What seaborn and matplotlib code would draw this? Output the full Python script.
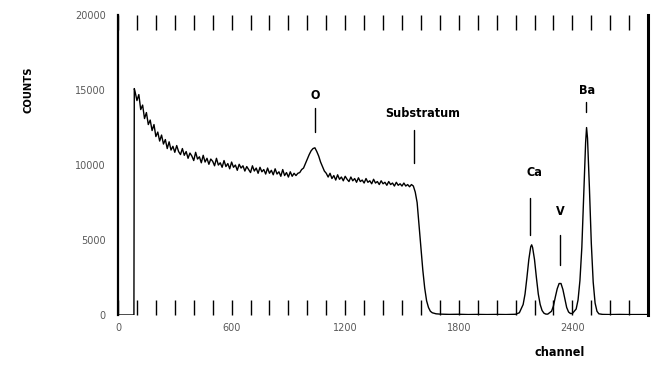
import seaborn as sns
import matplotlib.pyplot as plt
import numpy as np

# channel / counts (10-channel steps on the continuum)
lead_channels = [0, 84, 86]
lead_counts = [0, 0, 15100]

edge_channels = list(range(90, 260, 10))
edge_counts = [14900, 14300, 14700, 13700, 14000, 13100, 13500, 12700, 13000,
               12300, 12700, 11900, 12200, 11600, 12000, 11400, 11700]

mid_channels = list(range(260, 950, 10))
mid_counts = [11100, 11550, 11000, 11250, 10850, 11300, 10900, 10700, 11100, 10650,
              10900, 10450, 10800, 10600, 10300, 10850, 10400, 10550, 10150, 10650,
              10200, 10450, 10050, 10400, 10250, 9950, 10450, 10000, 10150, 9850,
              10300, 9900, 10100, 9750, 10200, 9850, 10000, 9650, 10050, 9800,
              9950, 9600, 9900, 9700, 9500, 9950, 9600, 9800, 9450, 9850,
              9550, 9700, 9400, 9800, 9450, 9650, 9350, 9750, 9400, 9550,
              9250, 9700, 9300, 9500, 9200, 9550, 9250, 9450, 9300]

oxy_channels = list(range(950, 1100, 10))
oxy_counts = [9450, 9500, 9700, 9800, 10100, 10400, 10700, 10950, 11100, 11150,
              10900, 10600, 10200, 9900, 9600]

sub_channels = list(range(1100, 1660, 10))
sub_counts = [9450, 9200, 9450, 9100, 9300, 9000, 9350, 9050, 9200, 8950,
              9250, 9050, 8900, 9200, 8950, 9100, 8850, 9150, 8900, 9000,
              8800, 9100, 8850, 8950, 8750, 9050, 8800, 8900, 8700, 8950,
              8750, 8850, 8650, 8900, 8700, 8800, 8600, 8850, 8650, 8750,
              8600, 8800, 8600, 8700, 8550, 8700, 8600, 8200, 7500, 6000,
              4500, 3000, 1800, 950, 500, 250]

tail_channels = [1660, 1680, 1700, 1750, 1800, 1850, 1900, 1950, 2000, 2050, 2100,
                 2120, 2140, 2150, 2160, 2170, 2180, 2185, 2190, 2200, 2210, 2220,
                 2230, 2240, 2250, 2260, 2270, 2290, 2300, 2310, 2320, 2330, 2340,
                 2350, 2360, 2370, 2380, 2390, 2400, 2420, 2430, 2440, 2450, 2460,
                 2470, 2475, 2480, 2490, 2500, 2510, 2520, 2530, 2540, 2560, 2600,
                 2650, 2700, 2750, 2800]
tail_counts = [150, 80, 60, 40, 50, 30, 40, 30, 40, 30, 50,
               150, 700, 1400, 2500, 3700, 4550, 4680, 4500, 3700, 2500, 1400,
               700, 300, 120, 60, 60, 250, 600, 1200, 1750, 2100, 2100,
               1700, 1100, 500, 200, 100, 100, 400, 1000, 2300, 4500, 8000,
               11500, 12500, 11800, 8500, 4800, 2200, 800, 250, 80, 40, 30,
               40, 30, 30, 30]

channels = lead_channels + edge_channels + mid_channels + oxy_channels + sub_channels + tail_channels
counts = lead_counts + edge_counts + mid_counts + oxy_counts + sub_counts + tail_counts

# peak labels: text, text pos, marker line x, marker line y range
labels = ['O', 'Substratum', 'Ca', 'V', 'Ba']
label_x = [1041, 1612, 2199, 2336, 2479]
label_y = [14670, 13470, 9530, 6930, 15000]
mark_x = [1041, 1565, 2178, 2336, 2474]
mark_y0 = [12200, 10130, 5330, 3330, 13530]
mark_y1 = [13800, 12330, 7800, 5330, 14200]

x_ticks = [0, 600, 1200, 1800, 2400]
y_ticks = [0, 5000, 10000, 15000, 20000]

sns.set_style('white')
plt.rcParams['font.family'] = ['DejaVu Sans']
plt.rcParams['text.color'] = 'black'

fig = plt.figure(figsize=(6.52, 3.68), dpi=100)
ax = fig.add_axes([0.181, 0.144, 0.813, 0.815])

sns.lineplot(x=channels, y=counts, ax=ax, color='black', linewidth=1.0,
             estimator=None, sort=False)

for t, tx, ty, mx, m0, m1 in zip(labels, label_x, label_y, mark_x, mark_y0, mark_y1):
    ax.text(tx, ty, t, ha='center', va='center', fontsize=9, fontweight='bold',
            fontstretch='condensed', color='black')
    ax.plot([mx, mx], [m0, m1], color='black', linewidth=1.0)

ax.set_xlim(0, 2800)
ax.set_ylim(0, 20000)
ax.set_xticks(x_ticks)
ax.set_xticks(np.arange(100, 2800, 100), minor=True)
ax.set_yticks(y_ticks)
ax.tick_params(axis='x', which='both', direction='in', length=11, width=1,
               top=True, bottom=True, color='black', labelsize=7,
               labelcolor='0.35', pad=6)
ax.tick_params(axis='y', length=0, labelsize=7, labelcolor='0.35', pad=9)

for side in ['top', 'bottom']:
    ax.spines[side].set_visible(False)
ax.spines['left'].set_linewidth(1.6)
ax.spines['right'].set_linewidth(2.2)
ax.spines['left'].set_color('black')
ax.spines['right'].set_color('black')

ax.set_xlabel('channel', fontsize=9, fontweight='bold', fontstretch='condensed',
              color='black')
ax.xaxis.set_label_coords(0.834, -0.105)
ax.set_ylabel('COUNTS', fontsize=8, fontweight='bold', fontstretch='condensed',
              color='black')
ax.yaxis.set_label_coords(-0.16, 0.75)

fig.savefig('out.png', dpi=100)
